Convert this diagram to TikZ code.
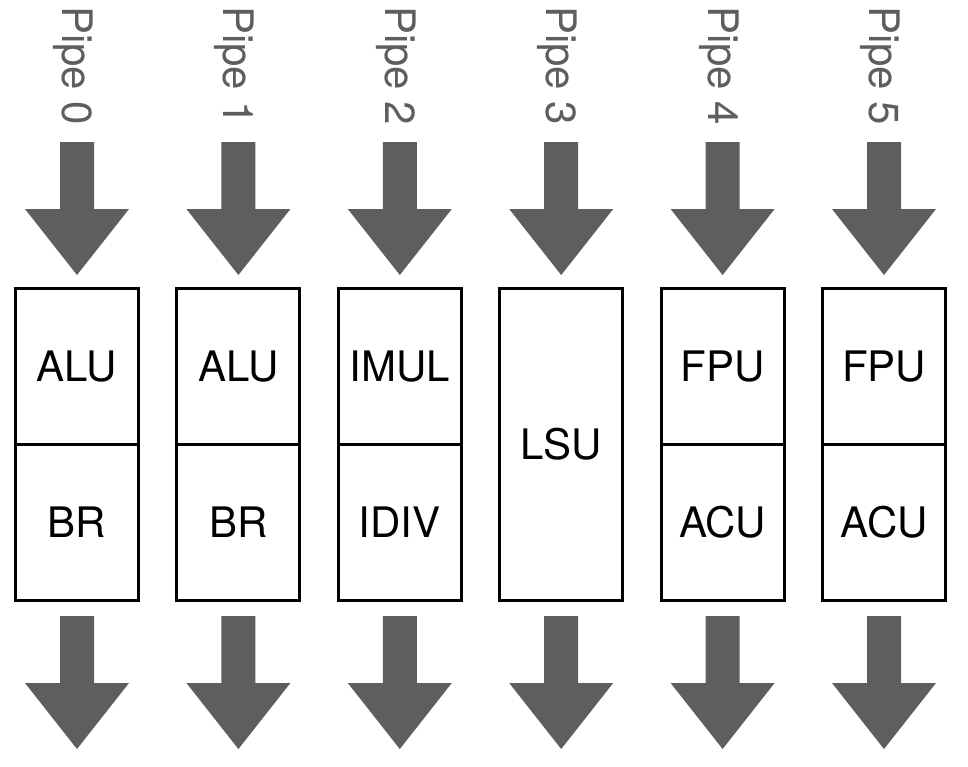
\documentclass[tikz,border=0pt]{standalone}
\usepackage{fontspec}
\setmainfont{TeX Gyre Heros}
\definecolor{pipegray}{HTML}{5E5E5E}
\tikzset{
  unit/.style={draw, line width=3pt, minimum width=123pt, minimum height=155.6pt,
    inner sep=0pt, font=\fontsize{42}{50}\selectfont},
  tallunit/.style={unit, minimum height=311.4pt},
  pipelabel/.style={rotate=-90, anchor=base west, inner sep=0pt, text=pipegray,
    font=\fontsize{42}{50}\selectfont},
  bigarrow/.pic={
    \fill[pipegray] (-17,0) -- (17,0) -- (17,67) -- (52,67) -- (0,133)
      -- (-52,67) -- (-17,67) -- cycle;
  }
}
\begin{document}
\begin{tikzpicture}[x=1pt,y=-1pt]
  \useasboundingbox (0,0) rectangle (968,766);
  % pipe labels
  \node[pipelabel] (pipe0) at (62.5,6) {Pipe 0};
  \node[pipelabel] (pipe1) at (223.9,6) {Pipe 1};
  \node[pipelabel] (pipe2) at (385.3,6) {Pipe 2};
  \node[pipelabel] (pipe3) at (546.7,6) {Pipe 3};
  \node[pipelabel] (pipe4) at (708.1,6) {Pipe 4};
  \node[pipelabel] (pipe5) at (869.5,6) {Pipe 5};
  % incoming arrows
  \pic at (77,142) {bigarrow};
  \pic at (238.4,142) {bigarrow};
  \pic at (399.8,142) {bigarrow};
  \pic at (561.2,142) {bigarrow};
  \pic at (722.6,142) {bigarrow};
  \pic at (884,142) {bigarrow};
  % execution units
  \node[unit] (alu0) at (77,366.6) {ALU};
  \node[unit] (br0) at (77,522.2) {BR};
  \node[unit] (alu1) at (238.4,366.6) {ALU};
  \node[unit] (br1) at (238.4,522.2) {BR};
  \node[unit] (imul) at (399.8,366.6) {IMUL};
  \node[unit] (idiv) at (399.8,522.2) {IDIV};
  \node[tallunit] (lsu) at (561.2,444.4) {LSU};
  \node[unit] (fpu4) at (722.6,366.6) {FPU};
  \node[unit] (acu4) at (722.6,522.2) {ACU};
  \node[unit] (fpu5) at (884,366.6) {FPU};
  \node[unit] (acu5) at (884,522.2) {ACU};
  % outgoing arrows
  \pic at (77,616) {bigarrow};
  \pic at (238.4,616) {bigarrow};
  \pic at (399.8,616) {bigarrow};
  \pic at (561.2,616) {bigarrow};
  \pic at (722.6,616) {bigarrow};
  \pic at (884,616) {bigarrow};
\end{tikzpicture}
\end{document}
